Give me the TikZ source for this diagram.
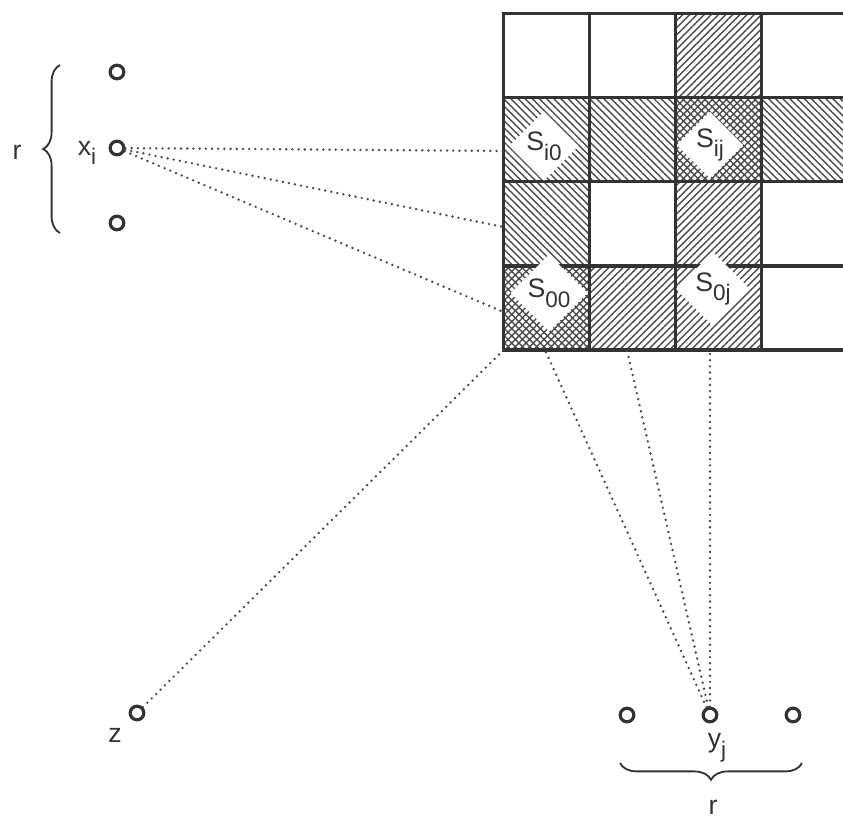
\documentclass[tikz,border=0pt]{standalone}
\usepackage{fontspec}
\setmainfont{Liberation Sans}
\usetikzlibrary{patterns.meta,shapes.geometric,decorations.pathreplacing}

\definecolor{ink}{HTML}{333333}
\definecolor{hatch}{HTML}{4A4A4A}

\newcommand{\lowsub}[2]{#1\raisebox{-7pt}{\fontsize{16}{18}\selectfont #2}}

\tikzset{
  vertex/.style={circle, draw=ink, line width=0.8mm, minimum size=3.4mm, inner sep=0pt},
  ray/.style={draw=hatch, line width=1.9pt, dash pattern=on 0pt off 4.4pt, line cap=round},
  lbl/.style={text=ink, font=\fontsize{19}{22}\selectfont, inner sep=1pt},
  slabel/.style={lbl, shape=diamond, fill=white, aspect=1, inner sep=1pt},
  nehatch/.style={pattern={Lines[angle=45,distance=3.6pt,line width=1pt]}, pattern color=hatch},
  nwhatch/.style={pattern={Lines[angle=-45,distance=3.6pt,line width=1pt]}, pattern color=hatch},
  gridline/.style={draw=ink, line width=0.8mm},
  bracket/.style={decorate, decoration={brace, amplitude=4.2mm}, draw=ink, line width=1.3pt},
}

\begin{document}
\begin{tikzpicture}[x=0.25mm, y=-0.25mm]
  \useasboundingbox[fill=white] (0,0) rectangle (843,819);
  \clip (0,0) rectangle (843,819);

  % hatched squares
  \fill[nehatch] (675.7,13.3) rectangle (761.8,97.5);
  \fill[nwhatch] (503.5,97.5) rectangle (675.7,181.7);
  \fill[nwhatch] (761.8,97.5) rectangle (847.9,181.7);
  \fill[nehatch] (675.7,97.5) rectangle (761.8,181.7);
  \fill[nwhatch] (675.7,97.5) rectangle (761.8,181.7);
  \fill[nwhatch] (503.5,181.7) rectangle (589.6,265.9);
  \fill[nehatch] (675.7,181.7) rectangle (761.8,265.9);
  \fill[nehatch] (503.5,265.9) rectangle (761.8,350);
  \fill[nwhatch] (503.5,265.9) rectangle (589.6,350);

  % grid
  \draw[gridline] (503.5,13.3) rectangle (847.9,350);
  \foreach \x in {589.6,675.7,761.8} \draw[gridline] (\x,13.3) -- (\x,350);
  \foreach \y in {97.5,181.7,265.9} \draw[gridline] (503.5,\y) -- (847.9,\y);

  \node[slabel] (si0) at (544,146) {\lowsub{S}{i0}};
  \node[slabel] (sij) at (710,145) {\lowsub{S}{ij}};
  \node[slabel] (s00) at (549,293) {\lowsub{S}{00}};
  \node[slabel] (s0j) at (713,289) {\lowsub{S}{0j}};

  % points
  \node[vertex] (x1) at (117,72) {};
  \node[vertex] (xi) at (117,148) {};
  \node[vertex] (x2) at (117,223) {};
  \node[vertex] (z) at (137,713) {};
  \node[vertex] (y1) at (627,715) {};
  \node[vertex] (yj) at (710,715) {};
  \node[vertex] (y2) at (793,715) {};

  \node[lbl] (rx) at (17,152) {r};
  \node[lbl] (xlbl) at (87,153) {\lowsub{x}{i}};
  \node[lbl] (zlbl) at (115,735) {z};
  \node[lbl] (ylbl) at (717,748) {\lowsub{y}{j}};
  \node[lbl] (ry) at (713,807) {r};

  \draw[bracket] (60,233) -- (60,65);
  \draw[bracket] (802,763) -- (620,763);

  % ends on the grid
  \coordinate (e1) at (503.5,151);
  \coordinate (e2) at (503.5,227);
  \coordinate (e3) at (503.5,312);
  \coordinate (c00) at (503.5,350);
  \coordinate (b1) at (545,350);
  \coordinate (b2) at (627,350);
  \coordinate (b3) at (710,350);

  \draw[ray] (xi) -- (e1); \draw[ray] (xi) -- (e2); \draw[ray] (xi) -- (e3);
  \draw[ray] (z) -- (c00);
  \draw[ray] (yj) -- (b1); \draw[ray] (yj) -- (b2); \draw[ray] (yj) -- (b3);
\end{tikzpicture}
\end{document}
